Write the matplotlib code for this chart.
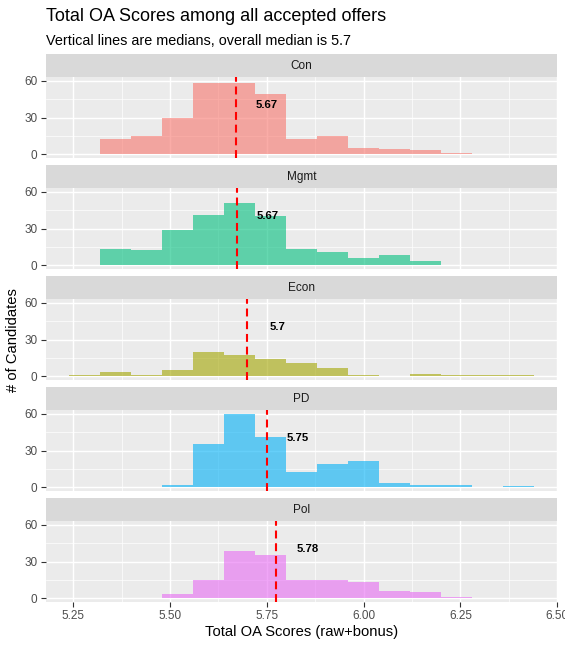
import matplotlib
matplotlib.use("Agg")
import matplotlib.pyplot as plt
import numpy as np

plt.rcParams['font.family'] = ['Liberation Sans', 'DejaVu Sans']

# ---- data ----
facets = ["Con", "Mgmt", "Econ", "PD", "Pol"]
colors = ["#F8766D", "#00BF7D", "#A3A500", "#00B0F6", "#E76BF3"]
bin_start = 5.24
bin_width = 0.08
n_bins = 15
counts_con = [0, 12, 15, 30, 58, 58, 49, 12, 15, 5, 4, 3, 1, 0, 0]
counts_mgmt = [0, 13, 12, 29, 41, 51, 40, 13, 11, 6, 8, 3, 0, 0, 0]
counts_econ = [1, 3, 1, 5, 20, 17, 14, 11, 7, 1, 0, 2, 1, 1, 1]
counts_pd = [0, 0, 0, 2, 35, 60, 41, 12, 19, 21, 3, 2, 2, 0, 1]
counts_pol = [0, 0, 0, 3, 15, 39, 35, 15, 15, 13, 6, 5, 1, 0, 0]
all_counts = [counts_con, counts_mgmt, counts_econ, counts_pd, counts_pol]
medians = [5.670, 5.673, 5.699, 5.751, 5.775]
median_labels = ["5.67", "5.67", "5.7", "5.75", "5.78"]
x_ticks = [5.25, 5.50, 5.75, 6.00, 6.25, 6.50]
x_ticklabels = ["5.25", "5.50", "5.75", "6.00", "6.25", "6.50"]
y_ticks = [0, 30, 60]
title = "Total OA Scores among all accepted offers"
subtitle = "Vertical lines are medians, overall median is 5.7"
xlabel = "Total OA Scores (raw+bonus)"
ylabel = "# of Candidates"

# ---- layout ----
W, H = 565, 647
fig = plt.figure(figsize=(W / 100, H / 100), dpi=100)


def rect(x0, ytop, w, h):
    return [x0 / W, 1 - (ytop + h) / H, w / W, h / H]


left, right = 46, 557.3
pw = right - left
top0 = 54
strip_h, panel_h, gap = 23.3, 80.4, 7.3

edges = bin_start + bin_width * np.arange(n_bins + 1)
x_lo = edges[0] - 0.05 * (edges[-1] - edges[0])
x_hi = edges[-1] + 0.05 * (edges[-1] - edges[0])
ymax = max(max(c) for c in all_counts)

grid_major = dict(color="white", linewidth=1.05)
grid_minor = dict(color="white", linewidth=0.5)

for i, (name, col, cnt, med, lab) in enumerate(zip(facets, colors, all_counts, medians, median_labels)):
    st = top0 + i * (strip_h + panel_h + gap)
    # strip
    sax = fig.add_axes(rect(left, st, pw, strip_h))
    sax.set_facecolor("#D9D9D9")
    sax.set_xticks([]); sax.set_yticks([])
    for s in sax.spines.values():
        s.set_visible(False)
    sax.text(0.5, 0.5, name, ha="center", va="center", fontsize=8.45, color="#1A1A1A",
             transform=sax.transAxes)
    # panel
    ax = fig.add_axes(rect(left, st + strip_h, pw, panel_h))
    ax.set_facecolor("#EBEBEB")
    for s in ax.spines.values():
        s.set_visible(False)
    ax.set_xlim(x_lo, x_hi)
    ax.set_ylim(-0.05 * ymax, ymax * 1.05)
    ax.set_xticks(x_ticks)
    ax.set_xticks([(a + b) / 2 for a, b in zip(x_ticks[:-1], x_ticks[1:])], minor=True)
    ax.set_yticks(y_ticks)
    ax.set_yticks([(a + b) / 2 for a, b in zip(y_ticks[:-1], y_ticks[1:])], minor=True)
    ax.grid(True, which="major", **grid_major)
    ax.grid(True, which="minor", **grid_minor)
    ax.set_axisbelow(True)
    ax.tick_params(which="minor", length=0)
    ax.tick_params(which="major", length=3.6, width=0.8, color="#333333",
                   labelcolor="#4D4D4D", labelsize=8.45, pad=2.5)
    if i < len(facets) - 1:
        ax.tick_params(axis="x", which="major", length=0, labelbottom=False)
    else:
        ax.set_xticklabels(x_ticklabels)
    cnt = np.asarray(cnt)
    mask = cnt > 0
    ax.bar(edges[:-1][mask], cnt[mask], width=bin_width, align="edge",
           color=col, alpha=0.6, linewidth=0)
    ax.axvline(med, color="red", linewidth=1.5, linestyle=(0, (3.8, 2.3)))
    ax.text(med + 0.08, 40, lab, ha="center", va="center", fontsize=8.2,
            fontweight="bold", color="black")

fig.text(left / W, 1 - 21.3 / H, title, fontsize=13.0, ha="left", va="baseline", color="black")
fig.text(left / W, 1 - 45 / H, subtitle, fontsize=10.4, ha="left", va="baseline", color="black")
fig.text((left + right) / 2 / W, 1 - 632 / H, xlabel, fontsize=10.6, ha="center", va="center")
fig.text(13 / W, 1 - 340 / H, ylabel, fontsize=10.6, ha="center", va="center", rotation=90)

fig.savefig("out.png", dpi=100)
